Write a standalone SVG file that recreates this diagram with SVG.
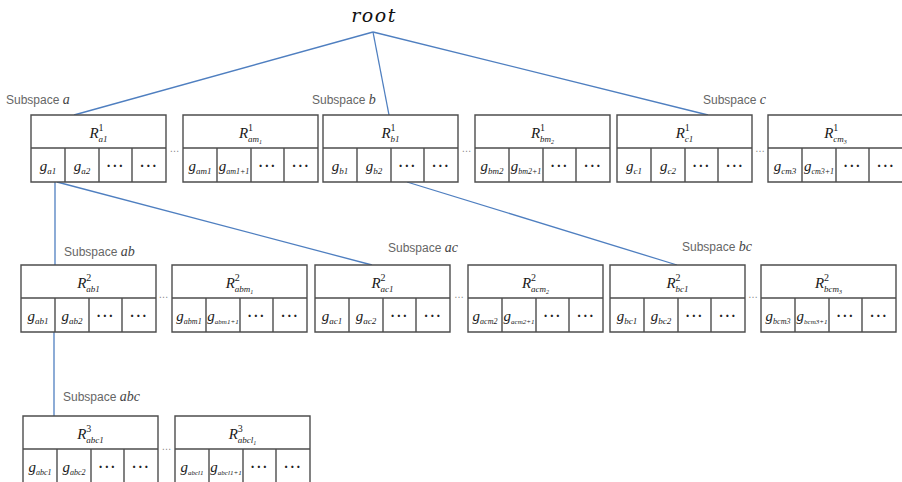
<svg xmlns="http://www.w3.org/2000/svg" xmlns:xlink="http://www.w3.org/1999/xlink" width="902" height="482" viewBox="0 0 902 482">
  <style>
    .frame { fill: #fff; stroke: #4d4d4d; stroke-width: 1.4; }
    .m { font-family: "Liberation Serif", serif; font-style: italic; fill: #1a1a1a; }
    .R { font-size: 15px; }
    .g { font-size: 15px; }
    .s { font-size: 9px; }
    .up { font-size: 10px; font-style: normal; }
    .s8 { font-size: 8px; }
    .s7 { font-size: 7px; }
    .ss { font-size: 6px; }
    .dots { font-family: "Liberation Serif", serif; font-size: 14px; font-weight: bold; letter-spacing: 1.5px; fill: #222; }
    .gap { font-family: "Liberation Sans", sans-serif; font-size: 10px; fill: #888; }
    .lbl { font-family: "Liberation Sans", sans-serif; font-size: 12px; fill: #666; }
    .v { font-family: "Liberation Serif", serif; font-style: italic; font-size: 14px; fill: #444; }
    .root { font-family: "DejaVu Serif", serif; font-style: italic; font-size: 19px; letter-spacing: 1.5px; fill: #111; }
    .conn { stroke: #4f7fc0; stroke-width: 1.3; fill: none; }
  </style>
  <defs>
    <!-- table frame: header row over four cells -->
    <path id="frame" class="frame" d="M0,0 H135 V67 H0 Z M0,33 H135 M34,33 V67 M68,33 V67 M101,33 V67"/>
    <!-- two ellipsis cells shared by every table -->
    <g id="tail">
      <text class="dots" x="84.5" y="56" text-anchor="middle">···</text>
      <text class="dots" x="118" y="56" text-anchor="middle">···</text>
    </g>
  </defs>

  <rect width="902" height="482" fill="#fff"/>

  <!-- connectors -->
  <g id="connectors">
    <line class="conn" x1="373" y1="32" x2="74" y2="115"/>
    <line class="conn" x1="373" y1="32" x2="389" y2="115"/>
    <line class="conn" x1="373" y1="32" x2="708" y2="115"/>
    <line class="conn" x1="55" y1="182" x2="55" y2="265"/>
    <line class="conn" x1="57" y1="182" x2="372" y2="265"/>
    <line class="conn" x1="407" y1="182" x2="677" y2="265"/>
    <line class="conn" x1="54" y1="331" x2="54" y2="416"/>
  </g>

  <!-- root -->
  <g id="root">
    <text class="root" x="374" y="22" text-anchor="middle">root</text>
  </g>

  <!-- subspace labels -->
  <g id="labels">
    <text class="lbl" x="6" y="104">Subspace <tspan class="v">a</tspan></text>
    <text class="lbl" x="312" y="104">Subspace <tspan class="v">b</tspan></text>
    <text class="lbl" x="703" y="104">Subspace <tspan class="v">c</tspan></text>
    <text class="lbl" x="64" y="256">Subspace <tspan class="v">ab</tspan></text>
    <text class="lbl" x="388" y="252">Subspace <tspan class="v">ac</tspan></text>
    <text class="lbl" x="682" y="251">Subspace <tspan class="v">bc</tspan></text>
    <text class="lbl" x="63" y="401">Subspace <tspan class="v">abc</tspan></text>
  </g>

  <!-- gaps between tables -->
  <g id="gaps">
    <text class="gap" x="174.5" y="152" text-anchor="middle">…</text>
    <text class="gap" x="466.5" y="152" text-anchor="middle">…</text>
    <text class="gap" x="760" y="152" text-anchor="middle">…</text>
    <text class="gap" x="163.5" y="298" text-anchor="middle">…</text>
    <text class="gap" x="459" y="298" text-anchor="middle">…</text>
    <text class="gap" x="753" y="298" text-anchor="middle">…</text>
    <text class="gap" x="166.5" y="450" text-anchor="middle">…</text>
  </g>

  <!-- level 1 -->
  <g id="R1-a1" transform="translate(31,115)">
    <use href="#frame" xlink:href="#frame"/>
    <text class="m R" x="67.5" y="23" text-anchor="middle">R<tspan class="up" dy="-7">1</tspan><tspan class="s" dx="-5" dy="11">a1</tspan></text>
    <text class="m g" x="17" y="56" text-anchor="middle">g<tspan class="s" dy="3">a1</tspan></text>
    <text class="m g" x="51" y="56" text-anchor="middle">g<tspan class="s" dy="3">a2</tspan></text>
    <use href="#tail" xlink:href="#tail"/>
  </g>
  <g id="R1-am1" transform="translate(183,115)">
    <use href="#frame" xlink:href="#frame"/>
    <text class="m R" x="67.5" y="23" text-anchor="middle">R<tspan class="up" dy="-7">1</tspan><tspan class="s" dx="-5" dy="11">am</tspan><tspan class="ss" dy="2">1</tspan></text>
    <text class="m g" x="17" y="56" text-anchor="middle">g<tspan class="s" dy="3">am1</tspan></text>
    <text class="m g" x="51" y="56" text-anchor="middle">g<tspan class="s8" dy="3">am1+1</tspan></text>
    <use href="#tail" xlink:href="#tail"/>
  </g>
  <g id="R1-b1" transform="translate(323,115)">
    <use href="#frame" xlink:href="#frame"/>
    <text class="m R" x="67.5" y="23" text-anchor="middle">R<tspan class="up" dy="-7">1</tspan><tspan class="s" dx="-5" dy="11">b1</tspan></text>
    <text class="m g" x="17" y="56" text-anchor="middle">g<tspan class="s" dy="3">b1</tspan></text>
    <text class="m g" x="51" y="56" text-anchor="middle">g<tspan class="s" dy="3">b2</tspan></text>
    <use href="#tail" xlink:href="#tail"/>
  </g>
  <g id="R1-bm2" transform="translate(475,115)">
    <use href="#frame" xlink:href="#frame"/>
    <text class="m R" x="67.5" y="23" text-anchor="middle">R<tspan class="up" dy="-7">1</tspan><tspan class="s" dx="-5" dy="11">bm</tspan><tspan class="ss" dy="2">2</tspan></text>
    <text class="m g" x="17" y="56" text-anchor="middle">g<tspan class="s" dy="3">bm2</tspan></text>
    <text class="m g" x="51" y="56" text-anchor="middle">g<tspan class="s8" dy="3">bm2+1</tspan></text>
    <use href="#tail" xlink:href="#tail"/>
  </g>
  <g id="R1-c1" transform="translate(617,115)">
    <use href="#frame" xlink:href="#frame"/>
    <text class="m R" x="67.5" y="23" text-anchor="middle">R<tspan class="up" dy="-7">1</tspan><tspan class="s" dx="-5" dy="11">c1</tspan></text>
    <text class="m g" x="17" y="56" text-anchor="middle">g<tspan class="s" dy="3">c1</tspan></text>
    <text class="m g" x="51" y="56" text-anchor="middle">g<tspan class="s" dy="3">c2</tspan></text>
    <use href="#tail" xlink:href="#tail"/>
  </g>
  <g id="R1-cm3" transform="translate(768,115)">
    <use href="#frame" xlink:href="#frame"/>
    <text class="m R" x="67.5" y="23" text-anchor="middle">R<tspan class="up" dy="-7">1</tspan><tspan class="s" dx="-5" dy="11">cm</tspan><tspan class="ss" dy="2">3</tspan></text>
    <text class="m g" x="17" y="56" text-anchor="middle">g<tspan class="s" dy="3">cm3</tspan></text>
    <text class="m g" x="51" y="56" text-anchor="middle">g<tspan class="s8" dy="3">cm3+1</tspan></text>
    <use href="#tail" xlink:href="#tail"/>
  </g>

  <!-- level 2 -->
  <g id="R2-ab1" transform="translate(21,265)">
    <use href="#frame" xlink:href="#frame"/>
    <text class="m R" x="67.5" y="23" text-anchor="middle">R<tspan class="up" dy="-7">2</tspan><tspan class="s" dx="-5" dy="11">ab1</tspan></text>
    <text class="m g" x="17" y="56" text-anchor="middle">g<tspan class="s" dy="3">ab1</tspan></text>
    <text class="m g" x="51" y="56" text-anchor="middle">g<tspan class="s" dy="3">ab2</tspan></text>
    <use href="#tail" xlink:href="#tail"/>
  </g>
  <g id="R2-abm1" transform="translate(172,265)">
    <use href="#frame" xlink:href="#frame"/>
    <text class="m R" x="67.5" y="23" text-anchor="middle">R<tspan class="up" dy="-7">2</tspan><tspan class="s" dx="-5" dy="11">abm</tspan><tspan class="ss" dy="2">1</tspan></text>
    <text class="m g" x="17" y="56" text-anchor="middle">g<tspan class="s8" dy="3">abm1</tspan></text>
    <text class="m g" x="51" y="56" text-anchor="middle">g<tspan class="s7" dy="3">abm1+1</tspan></text>
    <use href="#tail" xlink:href="#tail"/>
  </g>
  <g id="R2-ac1" transform="translate(315,265)">
    <use href="#frame" xlink:href="#frame"/>
    <text class="m R" x="67.5" y="23" text-anchor="middle">R<tspan class="up" dy="-7">2</tspan><tspan class="s" dx="-5" dy="11">ac1</tspan></text>
    <text class="m g" x="17" y="56" text-anchor="middle">g<tspan class="s" dy="3">ac1</tspan></text>
    <text class="m g" x="51" y="56" text-anchor="middle">g<tspan class="s" dy="3">ac2</tspan></text>
    <use href="#tail" xlink:href="#tail"/>
  </g>
  <g id="R2-acm2" transform="translate(468,265)">
    <use href="#frame" xlink:href="#frame"/>
    <text class="m R" x="67.5" y="23" text-anchor="middle">R<tspan class="up" dy="-7">2</tspan><tspan class="s" dx="-5" dy="11">acm</tspan><tspan class="ss" dy="2">2</tspan></text>
    <text class="m g" x="17" y="56" text-anchor="middle">g<tspan class="s8" dy="3">acm2</tspan></text>
    <text class="m g" x="51" y="56" text-anchor="middle">g<tspan class="s7" dy="3">acm2+1</tspan></text>
    <use href="#tail" xlink:href="#tail"/>
  </g>
  <g id="R2-bc1" transform="translate(610,265)">
    <use href="#frame" xlink:href="#frame"/>
    <text class="m R" x="67.5" y="23" text-anchor="middle">R<tspan class="up" dy="-7">2</tspan><tspan class="s" dx="-5" dy="11">bc1</tspan></text>
    <text class="m g" x="17" y="56" text-anchor="middle">g<tspan class="s" dy="3">bc1</tspan></text>
    <text class="m g" x="51" y="56" text-anchor="middle">g<tspan class="s" dy="3">bc2</tspan></text>
    <use href="#tail" xlink:href="#tail"/>
  </g>
  <g id="R2-bcm3" transform="translate(761,265)">
    <use href="#frame" xlink:href="#frame"/>
    <text class="m R" x="67.5" y="23" text-anchor="middle">R<tspan class="up" dy="-7">2</tspan><tspan class="s" dx="-5" dy="11">bcm</tspan><tspan class="ss" dy="2">3</tspan></text>
    <text class="m g" x="17" y="56" text-anchor="middle">g<tspan class="s8" dy="3">bcm3</tspan></text>
    <text class="m g" x="51" y="56" text-anchor="middle">g<tspan class="s7" dy="3">bcm3+1</tspan></text>
    <use href="#tail" xlink:href="#tail"/>
  </g>

  <!-- level 3 -->
  <g id="R3-abc1" transform="translate(23,416)">
    <use href="#frame" xlink:href="#frame"/>
    <text class="m R" x="67.5" y="23" text-anchor="middle">R<tspan class="up" dy="-7">3</tspan><tspan class="s" dx="-5" dy="11">abc1</tspan></text>
    <text class="m g" x="17" y="56" text-anchor="middle">g<tspan class="s8" dy="3">abc1</tspan></text>
    <text class="m g" x="51" y="56" text-anchor="middle">g<tspan class="s8" dy="3">abc2</tspan></text>
    <use href="#tail" xlink:href="#tail"/>
  </g>
  <g id="R3-abcl1" transform="translate(175,416)">
    <use href="#frame" xlink:href="#frame"/>
    <text class="m R" x="67.5" y="23" text-anchor="middle">R<tspan class="up" dy="-7">3</tspan><tspan class="s" dx="-5" dy="11">abcl</tspan><tspan class="ss" dy="2">1</tspan></text>
    <text class="m g" x="17" y="56" text-anchor="middle">g<tspan class="s7" dy="3">abcl1</tspan></text>
    <text class="m g" x="51" y="56" text-anchor="middle">g<tspan class="s7" dy="3">abcl1+1</tspan></text>
    <use href="#tail" xlink:href="#tail"/>
  </g>
</svg>
